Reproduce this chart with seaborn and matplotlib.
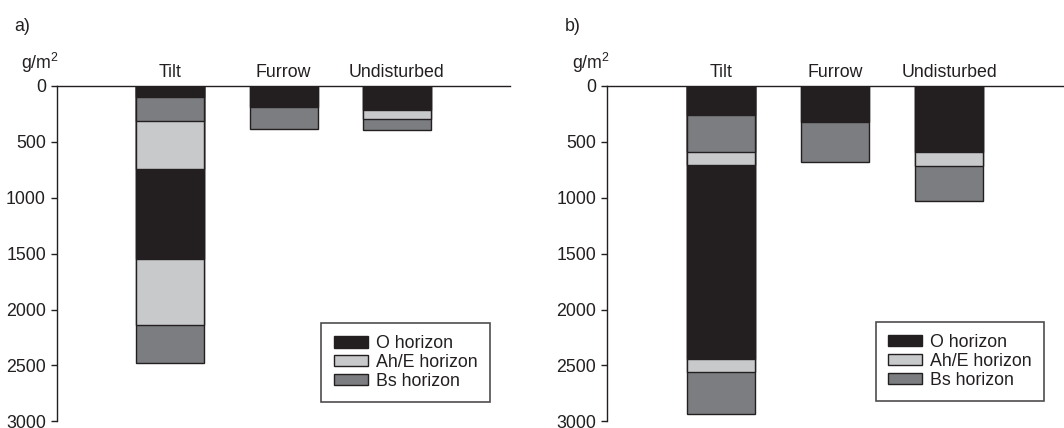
import matplotlib
matplotlib.use("Agg")
import matplotlib.pyplot as plt
import matplotlib.patches as mpatches
import numpy as np
import pandas as pd
import seaborn as sns

# Soil profile layers (top to bottom) and their mass per area, g/m2
sites = ["Tilt", "Furrow", "Undisturbed"]
horizons = ["O horizon", "Ah/E horizon", "Bs horizon"]

# Panel a)
a_tilt_layers = ["O horizon", "Bs horizon", "Ah/E horizon", "O horizon", "Ah/E horizon", "Bs horizon"]
a_tilt_mass = [100, 215, 430, 800, 595, 335]
a_furrow_layers = ["O horizon", "Bs horizon"]
a_furrow_mass = [193, 191]
a_undist_layers = ["O horizon", "Ah/E horizon", "Bs horizon"]
a_undist_mass = [217, 83, 93]

# Panel b)
b_tilt_layers = ["O horizon", "Bs horizon", "Ah/E horizon", "O horizon", "Ah/E horizon", "Bs horizon"]
b_tilt_mass = [265, 330, 115, 1730, 120, 375]
b_furrow_layers = ["O horizon", "Bs horizon"]
b_furrow_mass = [327, 352]
b_undist_layers = ["O horizon", "Ah/E horizon", "Bs horizon"]
b_undist_mass = [595, 128, 310]

yticks = [0, 500, 1000, 1500, 2000, 2500, 3000]

palette = {
    "O horizon": "#231f20",
    "Ah/E horizon": "#c8c9cb",
    "Bs horizon": "#7c7d80",
}
edge = "#231f20"

sns.set_theme(style="white")
plt.rcParams["font.family"] = ["Liberation Sans", "DejaVu Sans"]
plt.rcParams["mathtext.default"] = "regular"
plt.rcParams["text.color"] = "#231f20"
FS = 12.8


def profile_frame(spec):
    rows = []
    for site, layers, masses in spec:
        depth = 0
        for i, (h, m) in enumerate(zip(layers, masses)):
            depth += m
            rows.append({"site": site, "layer": i, "horizon": h, "mass": m, "depth": depth})
    return pd.DataFrame(rows)


panels = [
    ("a)", profile_frame([
        ("Tilt", a_tilt_layers, a_tilt_mass),
        ("Furrow", a_furrow_layers, a_furrow_mass),
        ("Undisturbed", a_undist_layers, a_undist_mass),
    ]), [0.0536, 0.0152, 0.4258, 0.785], (0.955, 0.057)),
    ("b)", profile_frame([
        ("Tilt", b_tilt_layers, b_tilt_mass),
        ("Furrow", b_furrow_layers, b_furrow_mass),
        ("Undisturbed", b_undist_layers, b_undist_mass),
    ]), [0.5708, 0.0152, 0.4283, 0.785], (0.958, 0.061)),
]

fig = plt.figure(figsize=(10.64, 4.28), dpi=100)

for tag, df, rect, leg_anchor in panels:
    ax = fig.add_axes(rect)
    # Draw cumulative depths from the deepest layer upward so shallower
    # layers overlay the deeper ones, giving a stacked profile.
    for layer in sorted(df["layer"].unique(), reverse=True):
        sub = df[df["layer"] == layer]
        sns.barplot(
            data=sub, x="site", y="depth", hue="horizon",
            order=sites, hue_order=horizons, palette=palette,
            dodge=False, saturation=1, width=0.6, errorbar=None,
            edgecolor=edge, linewidth=1.0, legend=False, ax=ax,
        )
    ax.set_xlim(-1, 3)
    ax.set_ylim(3000, 0)
    ax.set_yticks(yticks)
    ax.set_yticklabels([str(v) for v in yticks], fontsize=FS, color="#231f20")
    ax.set_xlabel("")
    ax.set_ylabel("")
    ax.xaxis.tick_top()
    ax.tick_params(axis="x", length=0, pad=3.5, labelsize=FS, labelcolor="#231f20")
    ax.tick_params(axis="y", left=True, length=4, width=1, color="#231f20", pad=4)
    for s in ["bottom", "right"]:
        ax.spines[s].set_visible(False)
    for s in ["top", "left"]:
        ax.spines[s].set_color("#231f20")
        ax.spines[s].set_linewidth(1.0)

    ax.text(0.005, 1.066, "g/m$^2$", transform=ax.transAxes, ha="right", va="center",
            fontsize=FS)
    fig.text(rect[0] - 0.04, 0.937, tag, ha="left", va="center", fontsize=FS)

    handles = [mpatches.Patch(facecolor=palette[h], edgecolor=edge, linewidth=1.0, label=h)
               for h in horizons]
    leg = ax.legend(handles=handles, loc="lower right", bbox_to_anchor=leg_anchor,
                    frameon=True, fancybox=False, fontsize=FS, handlelength=1.9,
                    handleheight=0.6, handletextpad=0.45, labelspacing=0.1,
                    borderpad=0.7, borderaxespad=0.0)
    leg.get_frame().set_edgecolor("#231f20")
    leg.get_frame().set_linewidth(1.2)

fig.savefig("out.png", dpi=100)
